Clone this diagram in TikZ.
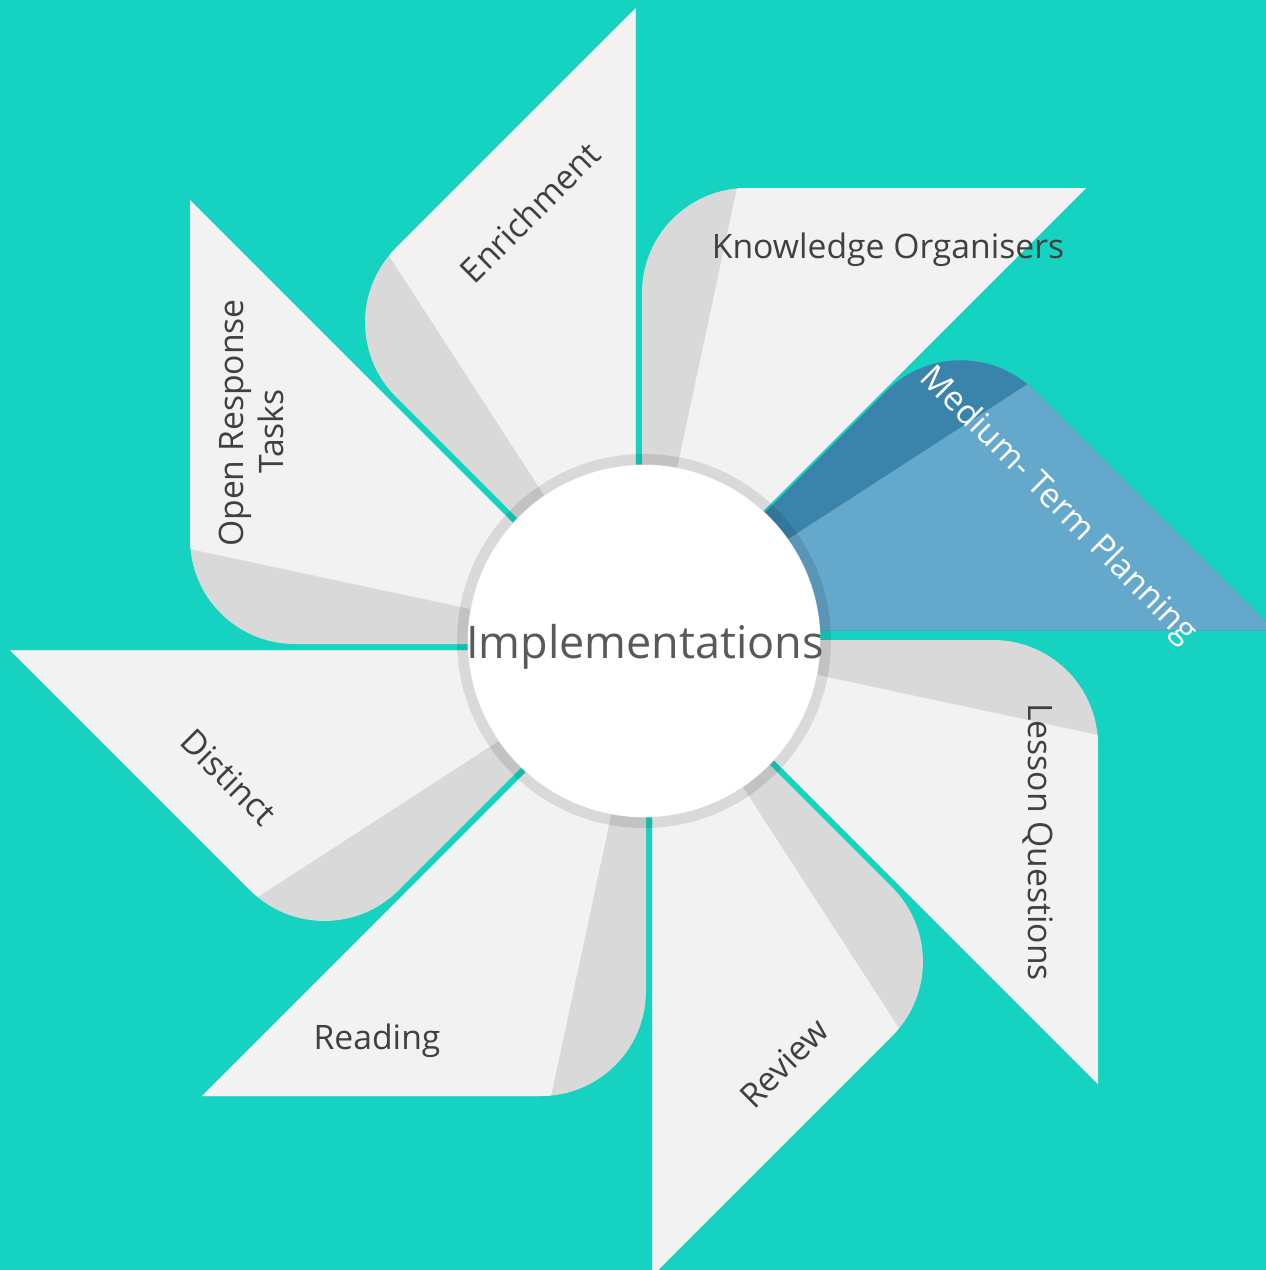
\documentclass[tikz,border=0pt]{standalone}
\usepackage{fontspec}
\setmainfont{Open Sans}
\usetikzlibrary{%
  calc,%
  positioning%
}
\definecolor{bgteal}{HTML}{15D3C0}
\definecolor{bladelight}{HTML}{F2F2F2}
\definecolor{bladedark}{HTML}{D9D9D9}
\definecolor{bluelight}{HTML}{64A8CB}
\definecolor{bluedark}{HTML}{3A84AB}
\definecolor{labelgray}{HTML}{404040}
\definecolor{titlegray}{HTML}{595959}

% one blade: angle of its straight leg, shift along/across it, light and dark fill
\newcommand{\pinblade}[5]{%
  \begin{scope}[shift={(644,-642)},rotate=#1,shift={(#2,#3)}]
    \clip (200,0) [rounded corners=105] -- (444,0) -- (444,-300)
      [sharp corners] -- (444,-444) -- (0,0) -- cycle;
    \fill[#5] (-5,5) rectangle (450,-450);
    \fill[#4] (0,0) -- (444,-95) -- (444,-450) -- cycle;
  \end{scope}
}

\begin{document}
\begin{tikzpicture}[
  x=1pt,y=1pt,
  bladelabel/.style={font=\fontsize{33.7}{40}\selectfont,text=labelgray,inner sep=0pt}
]

\useasboundingbox (0,0) rectangle (1266,-1270);
\clip (0,0) rectangle (1266,-1270);
\fill[bgteal] (0,0) rectangle (1266,-1270);

\foreach \ang in {90,0,-45,-90,-135,180,135} {
  \pinblade{\ang}{10}{2}{bladelight}{bladedark}
}
\pinblade{45}{10}{6}{bluelight}{bluedark}

\node (hub) [circle,fill=white,minimum size=353,inner sep=0pt] at (644,-641) {};
\draw[black,opacity=0.1,line width=11] (hub.center) circle (181.5);

\node[font=\fontsize{45}{54}\selectfont,text=titlegray,inner sep=0pt] (title) at (645,-647) {Implementations};

\node[bladelabel] (knowledge) at (888,-250) {Knowledge Organisers};
\node[bladelabel,text=white,rotate=-45] (medium) at (1058,-506) {Medium- Term Planning};
\node[bladelabel,rotate=-90] (lesson) at (1038,-842) {Lesson Questions};
\node[bladelabel,rotate=45] (review) at (784,-1063) {Review};
\node[bladelabel] (reading) at (377,-1041) {Reading};
\node[bladelabel,rotate=-45] (distinct) at (229,-777) {Distinct};
\node[bladelabel,rotate=90,align=center] (openresp) at (251,-423) {Open Response\\Tasks\makebox[17pt]{}};
\node[bladelabel,rotate=45] (enrich) at (530,-212) {Enrichment};

\end{tikzpicture}
\end{document}
